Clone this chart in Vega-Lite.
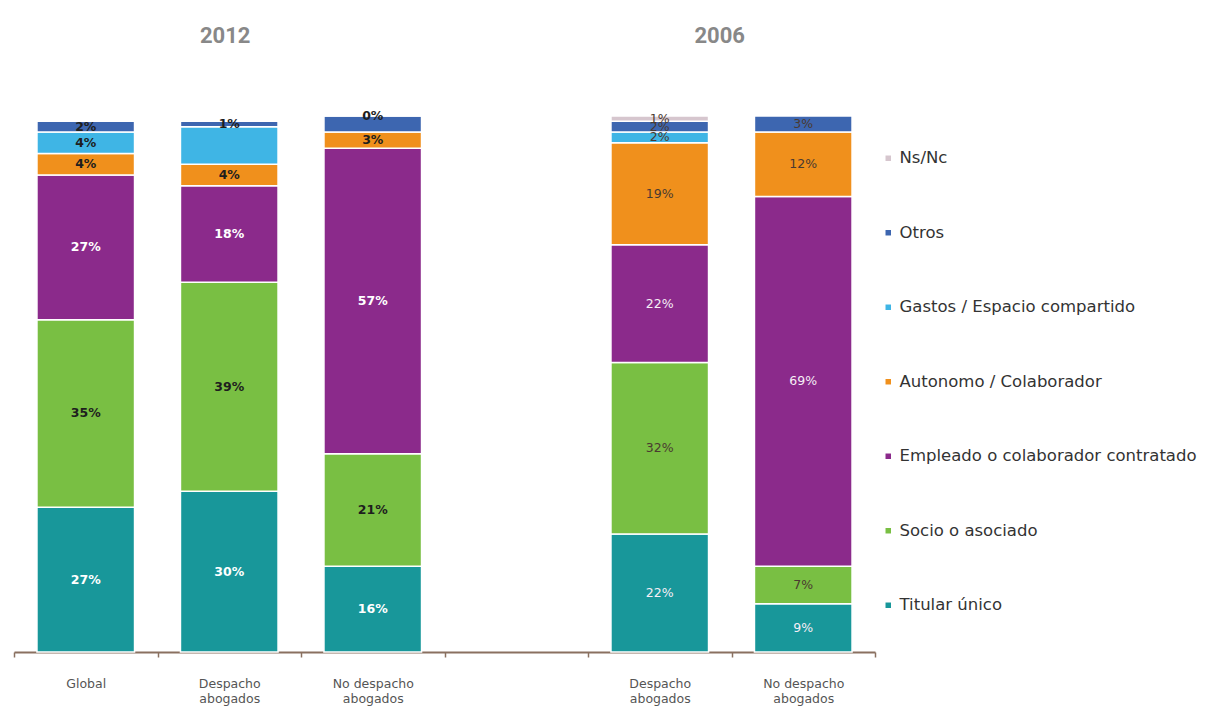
{
  "$schema": "https://vega.github.io/schema/vega-lite/v6.json",
  "autosize": "none",
  "width": 861,
  "height": 536,
  "padding": {"left": 14, "top": 116, "right": 346, "bottom": 56},
  "background": "white",
  "config": {"view": {"stroke": null}},
  "datasets": {
    "bars": [
      {"slot": "G12", "year": "2012", "cat": "Titular único", "rank": 1, "v": 27, "label": "27%"},
      {"slot": "G12", "year": "2012", "cat": "Socio o asociado", "rank": 2, "v": 35, "label": "35%"},
      {"slot": "G12", "year": "2012", "cat": "Empleado o colaborador contratado", "rank": 3, "v": 27, "label": "27%"},
      {"slot": "G12", "year": "2012", "cat": "Autonomo / Colaborador", "rank": 4, "v": 4, "label": "4%"},
      {"slot": "G12", "year": "2012", "cat": "Gastos / Espacio compartido", "rank": 5, "v": 4, "label": "4%"},
      {"slot": "G12", "year": "2012", "cat": "Otros", "rank": 6, "v": 2, "label": "2%"},
      {"slot": "D12", "year": "2012", "cat": "Titular único", "rank": 1, "v": 30, "label": "30%"},
      {"slot": "D12", "year": "2012", "cat": "Socio o asociado", "rank": 2, "v": 39, "label": "39%"},
      {"slot": "D12", "year": "2012", "cat": "Empleado o colaborador contratado", "rank": 3, "v": 18, "label": "18%"},
      {"slot": "D12", "year": "2012", "cat": "Autonomo / Colaborador", "rank": 4, "v": 4, "label": "4%"},
      {"slot": "D12", "year": "2012", "cat": "Gastos / Espacio compartido", "rank": 5, "v": 7, "label": ""},
      {"slot": "D12", "year": "2012", "cat": "Otros", "rank": 6, "v": 1, "label": "1%"},
      {"slot": "N12", "year": "2012", "cat": "Titular único", "rank": 1, "v": 16, "label": "16%"},
      {"slot": "N12", "year": "2012", "cat": "Socio o asociado", "rank": 2, "v": 21, "label": "21%"},
      {"slot": "N12", "year": "2012", "cat": "Empleado o colaborador contratado", "rank": 3, "v": 57, "label": "57%"},
      {"slot": "N12", "year": "2012", "cat": "Autonomo / Colaborador", "rank": 4, "v": 3, "label": "3%"},
      {"slot": "N12", "year": "2012", "cat": "Otros", "rank": 6, "v": 3, "label": ""},
      {"slot": "N12", "year": "2012", "cat": "Ns/Nc", "rank": 7, "v": 0, "label": "0%"},
      {"slot": "D06", "year": "2006", "cat": "Titular único", "rank": 1, "v": 22, "label": "22%"},
      {"slot": "D06", "year": "2006", "cat": "Socio o asociado", "rank": 2, "v": 32, "label": "32%"},
      {"slot": "D06", "year": "2006", "cat": "Empleado o colaborador contratado", "rank": 3, "v": 22, "label": "22%"},
      {"slot": "D06", "year": "2006", "cat": "Autonomo / Colaborador", "rank": 4, "v": 19, "label": "19%"},
      {"slot": "D06", "year": "2006", "cat": "Gastos / Espacio compartido", "rank": 5, "v": 2, "label": "2%"},
      {"slot": "D06", "year": "2006", "cat": "Otros", "rank": 6, "v": 2, "label": "2%"},
      {"slot": "D06", "year": "2006", "cat": "Ns/Nc", "rank": 7, "v": 1, "label": "1%"},
      {"slot": "N06", "year": "2006", "cat": "Titular único", "rank": 1, "v": 9, "label": "9%"},
      {"slot": "N06", "year": "2006", "cat": "Socio o asociado", "rank": 2, "v": 7, "label": "7%"},
      {"slot": "N06", "year": "2006", "cat": "Empleado o colaborador contratado", "rank": 3, "v": 69, "label": "69%"},
      {"slot": "N06", "year": "2006", "cat": "Autonomo / Colaborador", "rank": 4, "v": 12, "label": "12%"},
      {"slot": "N06", "year": "2006", "cat": "Otros", "rank": 6, "v": 3, "label": "3%"}
    ],
    "titles": [
      {"slot": "D12", "t": "2012"}
    ],
    "titles2": [
      {"slot": "D06", "t": "2006"}
    ]
  },
  "encoding": {
    "x": {
      "field": "slot",
      "type": "nominal",
      "scale": {"domain": ["G12", "D12", "N12", "blank", "D06", "N06"], "paddingInner": 0, "paddingOuter": 0},
      "axis": {
        "title": null,
        "labelAngle": 0,
        "tickBand": "extent",
        "domainColor": "#8a7060",
        "domainWidth": 2,
        "tickColor": "#8a7060",
        "tickWidth": 1.5,
        "tickSize": 5,
        "labelFont": "DejaVu Sans",
        "labelFontSize": 12.5,
        "labelColor": "#555555",
        "labelPadding": 20,
        "labelLineHeight": 15,
        "labelBaseline": "top",
        "labelExpr": "datum.value == 'G12' ? 'Global' : (datum.value == 'D12' || datum.value == 'D06') ? ['Despacho', 'abogados'] : (datum.value == 'N12' || datum.value == 'N06') ? ['No despacho', 'abogados'] : ''"
      }
    }
  },
  "layer": [
    {
      "data": {"name": "bars"},
      "mark": {"type": "bar", "stroke": "white", "strokeWidth": 1.5, "width": {"band": 0.68}},
      "encoding": {
        "y": {"field": "v", "type": "quantitative", "stack": "zero", "scale": {"domain": [0, 100], "nice": false}, "axis": null},
        "color": {
          "field": "cat",
          "type": "nominal",
          "scale": {
            "domain": ["Ns/Nc", "Otros", "Gastos / Espacio compartido", "Autonomo / Colaborador", "Empleado o colaborador contratado", "Socio o asociado", "Titular único"],
            "range": ["#d6c6ce", "#3d66b0", "#3fb5e5", "#f0901c", "#8b2a8b", "#79bf43", "#18979a"]
          },
          "legend": {
            "title": null,
            "orient": "none",
            "legendX": 866,
            "legendY": 34,
            "symbolType": "square",
            "symbolSize": 30,
            "symbolStrokeWidth": 0,
            "labelFont": "DejaVu Sans",
            "labelFontSize": 16.5,
            "labelColor": "#333333",
            "labelOffset": 3,
            "rowPadding": 57.5,
            "labelLimit": 400
          }
        },
        "order": {"field": "rank", "sort": "ascending"}
      }
    },
    {
      "data": {"name": "bars"},
      "mark": {"type": "text", "font": "DejaVu Sans", "fontSize": 12.5, "fontWeight": "bold", "baseline": "middle"},
      "encoding": {
        "y": {"field": "v", "type": "quantitative", "stack": "zero", "bandPosition": 0.5},
        "detail": {"field": "cat"},
        "order": {"field": "rank", "sort": "ascending"},
        "text": {"condition": {"test": "datum.year != '2012'", "value": ""}, "field": "label"},
        "color": {"condition": {"test": "datum.rank == 1 || datum.rank == 3", "value": "#ffffff"}, "value": "#1e1e1e"}
      }
    },
    {
      "data": {"name": "bars"},
      "mark": {"type": "text", "font": "DejaVu Sans", "fontSize": 12.5, "fontWeight": "normal", "baseline": "middle"},
      "encoding": {
        "y": {"field": "v", "type": "quantitative", "stack": "zero", "bandPosition": 0.5},
        "detail": {"field": "cat"},
        "order": {"field": "rank", "sort": "ascending"},
        "text": {"condition": {"test": "datum.year != '2006'", "value": ""}, "field": "label"},
        "color": {"condition": {"test": "datum.rank == 1 || datum.rank == 3", "value": "#f6eef6"}, "value": "#4a3a30"}
      }
    },
    {
      "data": {"name": "titles"},
      "mark": {"type": "text", "font": "Roboto", "fontSize": 22, "fontWeight": "bold", "color": "#888888", "baseline": "middle", "dx": -4},
      "encoding": {
        "y": {"datum": 115},
        "text": {"field": "t"}
      }
    },
    {
      "data": {"name": "titles2"},
      "mark": {"type": "text", "font": "Roboto", "fontSize": 22, "fontWeight": "bold", "color": "#888888", "baseline": "middle", "dx": 60},
      "encoding": {
        "y": {"datum": 115},
        "text": {"field": "t"}
      }
    }
  ]
}
